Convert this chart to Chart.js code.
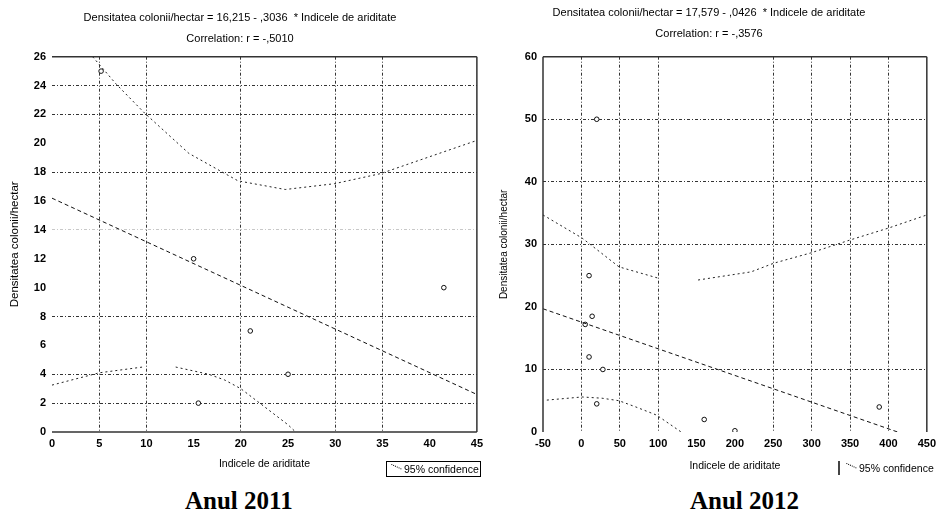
<!DOCTYPE html>
<html lang="ro">
<head>
<meta charset="UTF-8">
<title>Densitatea colonii/hectar vs Indicele de ariditate</title>
<script src="https://cdn.jsdelivr.net/npm/chart.js"></script>
<style>
  body { margin: 0; background: #fff; width: 941px; height: 523px; position: relative; overflow: hidden;
         font-family: "Liberation Sans", Arial, sans-serif; color: #000; }
  .pane { position: absolute; top: 0; }
  #pane2011 { left: 0; }
  #pane2012 { left: 488px; }
  .legend { position: absolute; font-size: 10.5px; line-height: 14px; white-space: nowrap; }
  .legend .sym { display: inline-block; width: 11px; height: 4px; border-top: 1px dotted #000;
                 transform: rotate(25deg); margin: 0 3px 2px 3px; }
  .caption { position: absolute; font: bold 25px "Liberation Serif", "Times New Roman", serif; }
</style>
</head>
<body>
<div class="pane" id="pane2011"><canvas id="chart2011" width="488" height="480"></canvas></div>
<div class="pane" id="pane2012"><canvas id="chart2012" width="453" height="480"></canvas></div>

<div class="legend" style="left:386px; top:461px; width:93px; border:1px solid #000;"><span class="sym"></span>95% confidence</div>
<div class="legend" style="left:838px; top:461px; width:120px; border-left:2px solid #444; padding-left:2px;"><span class="sym"></span>95% confidence</div>

<div class="caption" style="left:185px; top:487px;">Anul 2011</div>
<div class="caption" style="left:690px; top:487px;">Anul 2012</div>

<script>
// ---- Anul 2011 ----
const title2011 = ['Densitatea colonii/hectar = 16,215 - ,3036  * Indicele de ariditate', 'Correlation: r = -,5010'];
const points2011 = [[5.2, 25], [15, 12], [21, 7], [15.5, 2], [25, 4], [41.5, 10]];
const fit2011 = [[0, 16.2], [45, 2.6]];
const upper2011 = [[4.3, 26], [6.8, 24.1], [9.8, 22.1], [14.5, 19.3], [19.7, 17.4], [24.7, 16.8],
                   [29.9, 17.2], [34.8, 17.9], [45, 20.2]];
const lower2011 = [[0, 3.25], [5, 4.1], [9.6, 4.5], [11.3, null], [13.1, 4.5], [16.6, 4.0],
                   [18.3, 3.6], [20, 3], [25, 0.5], [25.8, 0]];
const gridX2011 = [5, 10, 20, 30, 35];
const gridY2011 = [24, 22, 18, 8, 4, 2];
const faintY2011 = [14];

// ---- Anul 2012 ----
const title2012 = ['Densitatea colonii/hectar = 17,579 - ,0426  * Indicele de ariditate', 'Correlation: r = -,3576'];
const points2012 = [[20, 50], [10, 25], [14, 18.5], [5, 17.2], [10, 12], [28, 10], [20, 4.5],
                    [160, 2], [200, 0.2], [388, 4]];
const fit2012 = [[-50, 19.7], [412, 0]];
const upper2012 = [[-50, 34.7], [1, 31], [49, 26.4], [100, 24.6], [125, null], [152, 24.3], [221, 25.6],
                   [251, 27], [298, 28.6], [350, 30.7], [400, 32.6], [450, 34.7]];
const lower2012 = [[-45, 5.1], [1, 5.6], [27, 5.4], [49, 5], [71, 4], [98, 2.7], [130, 0]];
const gridX2012 = [0, 50, 100, 250, 300, 350, 400];
const gridY2012 = [10, 30, 40, 50];

const axisLabelX = 'Indicele de ariditate';
const axisLabelY = 'Densitatea colonii/hectar';

const toXY = arr => arr.map(p => ({ x: p[0], y: p[1] }));

// draws the solid frame lines on the chosen sides of the plot area
const framePlugin = {
  id: 'frame',
  afterDraw(chart, args, opts) {
    const { ctx, chartArea: a } = chart;
    ctx.save();
    ctx.strokeStyle = '#333';
    ctx.lineWidth = 1.5;
    ctx.beginPath();
    (opts.sides || []).forEach(s => {
      if (s === 'top') { ctx.moveTo(a.left, a.top); ctx.lineTo(a.right, a.top); }
      if (s === 'bottom') { ctx.moveTo(a.left, a.bottom); ctx.lineTo(a.right, a.bottom); }
      if (s === 'left') { ctx.moveTo(a.left, a.top); ctx.lineTo(a.left, a.bottom); }
      if (s === 'right') { ctx.moveTo(a.right, a.top); ctx.lineTo(a.right, a.bottom); }
    });
    ctx.stroke();
    ctx.restore();
  }
};

function makeChart(id, cfg) {
  const gridColor = (list, faint) => c => list.includes(c.tick.value) ? '#333'
    : (faint && faint.includes(c.tick.value) ? '#c8c8c8' : 'transparent');
  return new Chart(document.getElementById(id), {
    type: 'scatter',
    data: {
      datasets: [
        { data: toXY(cfg.upper), showLine: true, borderColor: '#222', borderWidth: 1, borderDash: [2, 3],
          pointRadius: 0, spanGaps: false },
        { data: toXY(cfg.lower), showLine: true, borderColor: '#222', borderWidth: 1, borderDash: [2, 3],
          pointRadius: 0, spanGaps: false },
        { data: toXY(cfg.fit), showLine: true, borderColor: '#111', borderWidth: 1, borderDash: [4, 3],
          pointRadius: 0 },
        { data: toXY(cfg.points), pointStyle: 'circle', pointRadius: 2.3, borderWidth: 1,
          borderColor: '#111', backgroundColor: '#fff' }
      ]
    },
    options: {
      responsive: false,
      animation: false,
      layout: { padding: cfg.padding },
      plugins: {
        legend: { display: false },
        tooltip: { enabled: false },
        title: {
          display: true, text: cfg.title, color: '#000',
          font: { family: 'Liberation Sans', size: 11, weight: 'normal', lineHeight: 1.85 },
          padding: cfg.titlePad
        },
        frame: { sides: cfg.sides }
      },
      scales: {
        x: {
          type: 'linear', min: cfg.xMin, max: cfg.xMax,
          ticks: { stepSize: cfg.xStep, padding: 5, color: '#000',
                   font: { family: 'Liberation Sans', size: 11, weight: 'bold' } },
          grid: { color: gridColor(cfg.gridX), lineWidth: 1, drawTicks: false },
          border: { display: false, dash: [3, 2, 1, 2] },
          title: { display: true, text: axisLabelX, color: '#000',
                   font: { family: 'Liberation Sans', size: 10.5 }, padding: { top: 0, bottom: cfg.xTitlePad } },
          afterFit: s => { s.height = 40; }
        },
        y: {
          type: 'linear', min: cfg.yMin, max: cfg.yMax,
          ticks: { stepSize: cfg.yStep, padding: 6, color: '#000',
                   font: { family: 'Liberation Sans', size: 11, weight: 'bold' } },
          grid: { color: gridColor(cfg.gridY, cfg.faintY), lineWidth: 1, drawTicks: false },
          border: { display: false, dash: [3, 2, 1, 2] },
          title: { display: true, text: axisLabelY, color: '#000',
                   font: { family: 'Liberation Sans', size: cfg.yTitleSize }, padding: { top: cfg.yTitlePad, bottom: 0 } },
          afterFit: s => { s.width = cfg.yWidth; }
        }
      }
    },
    plugins: [framePlugin]
  });
}

makeChart('chart2011', {
  title: title2011, points: points2011, fit: fit2011, upper: upper2011, lower: lower2011,
  gridX: gridX2011, gridY: gridY2011, faintY: faintY2011,
  xMin: 0, xMax: 45, xStep: 5, yMin: 0, yMax: 26, yStep: 2,
  padding: { left: 0, right: 8, top: 0, bottom: 8 },
  titlePad: { top: 8, bottom: 8 }, xTitlePad: 2, yTitlePad: 8, yTitleSize: 11.5, yWidth: 52,
  sides: ['top', 'bottom', 'right']
});

makeChart('chart2012', {
  title: title2012, points: points2012, fit: fit2012, upper: upper2012, lower: lower2012,
  gridX: gridX2012, gridY: gridY2012, faintY: [],
  xMin: -50, xMax: 450, xStep: 50, yMin: 0, yMax: 60, yStep: 10,
  padding: { left: 0, right: 11, top: 0, bottom: 8 },
  titlePad: { top: 3, bottom: 13 }, xTitlePad: 0, yTitlePad: 10, yTitleSize: 10, yWidth: 55,
  sides: ['top', 'left', 'right']
});
</script>
</body>
</html>
